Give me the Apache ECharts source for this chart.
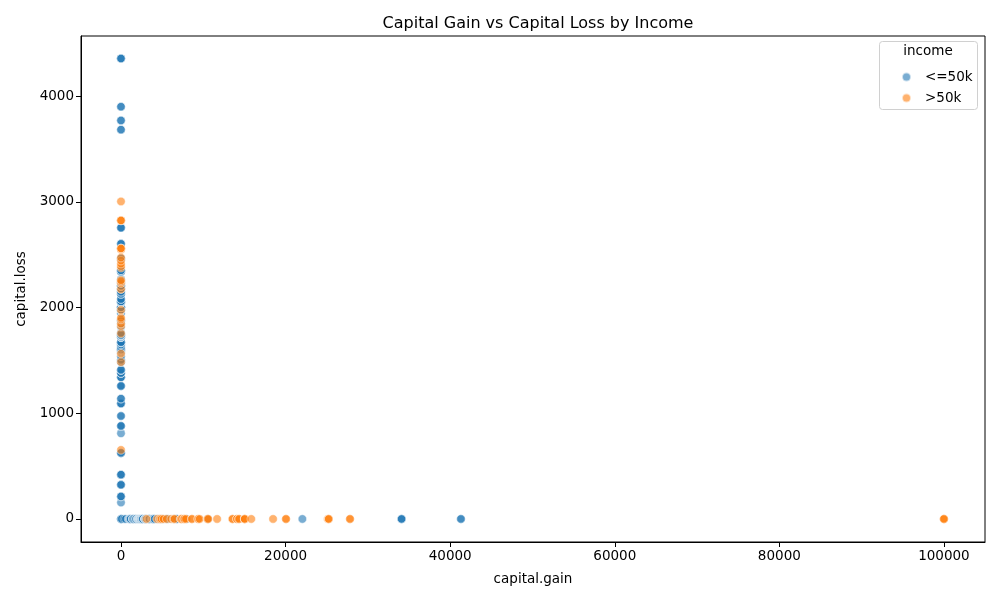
<!DOCTYPE html>
<html>
<head>
<meta charset="utf-8">
<script src="https://cdn.jsdelivr.net/npm/echarts@6/dist/echarts.min.js"></script>
<style>
  html, body { margin: 0; padding: 0; background: #fff; }
  #chart { width: 1000px; height: 600px; }
</style>
</head>
<body>
<div id="chart"></div>
<script>
// capital.gain values (capital.loss = 0), [value, count]
const gainLow = [
  [0, 5], [114, 1], [401, 1], [594, 1], [914, 1], [991, 1], [1055, 1], [1086, 1], [1151, 1],
  [1173, 1], [1409, 1], [1424, 1], [1471, 1], [1506, 1], [1639, 1], [1797, 1], [1831, 1],
  [1848, 1], [2036, 1], [2050, 1], [2062, 1], [2105, 1], [2174, 1], [2176, 1], [2202, 1],
  [2228, 1], [2290, 1], [2329, 1], [2346, 1], [2354, 1], [2387, 1], [2407, 1], [2414, 1],
  [2463, 1], [2538, 1], [2580, 1], [2597, 1], [2635, 1], [2653, 1], [2885, 1], [2907, 1],
  [2936, 1], [2961, 1], [2964, 1], [2977, 1], [2993, 1], [3137, 1], [3273, 1], [3325, 1],
  [3411, 1], [3418, 1], [3432, 1], [3456, 1], [3464, 1], [3471, 1], [3674, 1], [3781, 1],
  [3818, 1], [3887, 1], [3908, 1], [3942, 1], [4064, 1], [4101, 1], [4416, 1], [4508, 1],
  [4650, 1], [4865, 1], [4931, 1], [5060, 1], [5455, 1], [5721, 1], [6360, 1], [6497, 1],
  [6723, 1], [6767, 1], [6849, 1], [7443, 1], [7978, 1], [10566, 1], [22040, 1],
  [34095, 3], [41310, 2]
];
const gainHigh = [
  [3103, 1], [4386, 1], [4687, 1], [4787, 1], [4934, 1], [5178, 1], [5556, 1],
  [6097, 1], [6418, 1], [6514, 1], [7298, 3], [7430, 1], [7688, 3], [7896, 1], [8614, 2],
  [9386, 2], [9562, 1], [10520, 2], [10605, 1], [11678, 1], [13550, 2], [14084, 2],
  [14344, 2], [15020, 1], [15024, 3], [15831, 1], [18481, 1], [20051, 2], [25124, 1],
  [25236, 2], [27828, 2], [99999, 3]
];
// capital.loss values (capital.gain = 0), [value, count]
const lossLow = [
  [155, 1], [213, 3], [323, 3], [419, 3], [625, 3], [810, 1], [880, 3], [974, 2],
  [1092, 3], [1138, 2], [1258, 3], [1340, 3], [1380, 3], [1408, 2], [1411, 1], [1485, 2],
  [1504, 2], [1539, 1], [1573, 2], [1579, 2], [1590, 3], [1594, 1], [1602, 3], [1617, 1],
  [1628, 1], [1648, 1], [1651, 1], [1668, 1], [1669, 1], [1672, 3], [1719, 2], [1721, 2],
  [1726, 1], [1735, 1], [1740, 3], [1741, 2], [1762, 1], [1816, 1], [1844, 1], [1876, 3],
  [1944, 1], [1974, 2], [1980, 3], [2001, 3], [2002, 3], [2042, 3], [2051, 3], [2057, 2],
  [2080, 2], [2129, 3], [2149, 2], [2179, 3], [2201, 1], [2205, 3], [2206, 2], [2238, 2],
  [2267, 1], [2339, 3], [2352, 2], [2457, 1], [2467, 1], [2603, 3], [2754, 3], [3683, 2],
  [3770, 2], [3900, 2], [4356, 3]
];
const lossHigh = [
  [653, 1], [1485, 1], [1564, 1], [1755, 1], [1825, 1], [1848, 1], [1887, 1], [1902, 1],
  [1977, 1], [2174, 1], [2231, 1], [2246, 1], [2258, 1], [2377, 1], [2392, 1],
  [2415, 1], [2444, 1], [2472, 1], [2547, 1], [2559, 3], [2824, 3], [3004, 1]
];
const xTickRange = [-4860, 104990];
const yTickRange = [-218, 4569];

function expand(gain, loss) {
  const pts = [];
  gain.forEach(([v, n]) => { for (let i = 0; i < n; i++) pts.push([v, 0]); });
  loss.forEach(([v, n]) => { for (let i = 0; i < n; i++) pts.push([0, v]); });
  return pts;
}

const chart = echarts.init(document.getElementById('chart'));
const font = 'DejaVu Sans';
const blue = '#1f77b4';
const orange = '#ff7f0e';

const pointStyle = function(color) {
  return {
    color: color,
    opacity: 0.6,
    borderColor: '#ffffff',
    borderWidth: 0.8
  };
};

const axisCommon = {
  type: 'value',
  splitNumber: 5,
  nameLocation: 'middle',
  nameTextStyle: { fontFamily: font, fontSize: 13.5, color: '#000' },
  axisLine: { show: true, onZero: false, lineStyle: { color: '#000', width: 1 } },
  axisTick: { show: true, inside: false, length: 5, lineStyle: { color: '#000' } },
  axisLabel: {
    showMinLabel: false, showMaxLabel: false,
    fontFamily: font, fontSize: 13.5, color: '#000', margin: 7,
    formatter: v => String(v)
  },
  splitLine: { show: false }
};

chart.setOption({
  animation: false,
  backgroundColor: '#fff',
  title: {
    text: 'Capital Gain vs Capital Loss by Income',
    left: 533,
    top: 11,
    textAlign: 'center',
    textStyle: { fontFamily: font, fontSize: 16, fontWeight: 'normal', color: '#000' }
  },
  grid: {
    left: 81, right: 15, top: 36, bottom: 58,
    show: true, borderColor: '#000', borderWidth: 1, backgroundColor: 'transparent'
  },
  legend: {
    orient: 'vertical',
    left: 896,
    top: 65,
    itemGap: 7,
    itemWidth: 9,
    itemHeight: 9,
    icon: 'circle',
    data: ['<=50k', '>50k'],
    textStyle: { fontFamily: font, fontSize: 13.5, color: '#000', padding: [0, 0, 0, 9] }
  },
  graphic: [
    {
      type: 'rect',
      shape: { x: 879.5, y: 41.5, width: 98, height: 68, r: 3 },
      style: { fill: 'rgba(255,255,255,0.8)', stroke: '#d0d0d0', lineWidth: 1 },
      z: 0
    },
    {
      type: 'text',
      style: { text: 'income', x: 928, y: 44, textAlign: 'center', fontFamily: font, fontSize: 13.5, fill: '#000' },
      z: 10
    }
  ],
  xAxis: Object.assign({}, axisCommon, {
    min: xTickRange[0],
    max: xTickRange[1],
    name: 'capital.gain',
    nameGap: 30
  }),
  yAxis: Object.assign({}, axisCommon, {
    min: yTickRange[0],
    max: yTickRange[1],
    name: 'capital.loss',
    nameGap: 52
  }),
  series: [
    {
      name: '<=50k',
      type: 'scatter',
      symbolSize: 8.5,
      itemStyle: pointStyle(blue),
      data: expand(gainLow, lossLow),
      z: 2
    },
    {
      name: '>50k',
      type: 'scatter',
      symbolSize: 8.5,
      itemStyle: pointStyle(orange),
      data: expand(gainHigh, lossHigh),
      z: 3
    }
  ]
});
</script>
</body>
</html>
